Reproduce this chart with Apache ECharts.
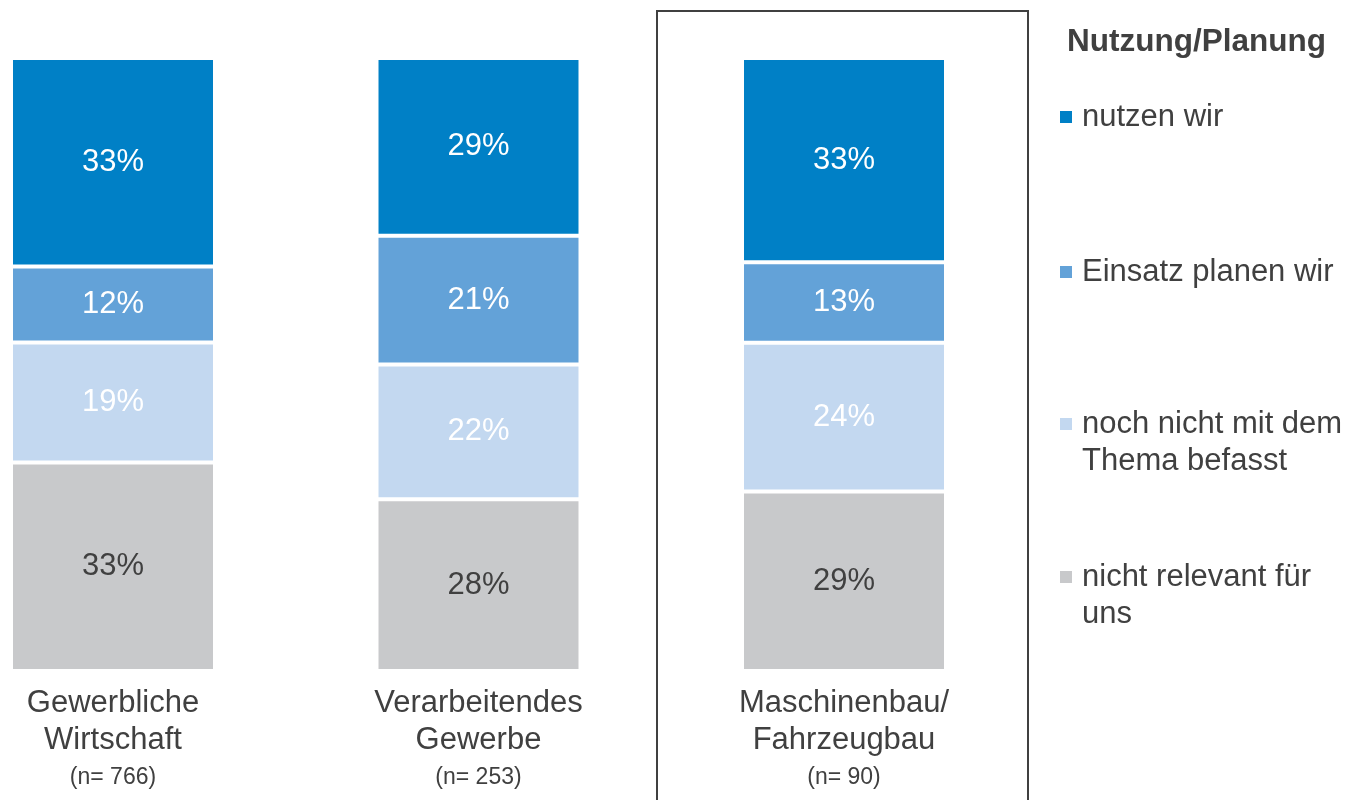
<!DOCTYPE html>
<html>
<head>
    <meta charset="utf-8">
    <title>Nutzung/Planung</title>
    <script src="https://cdn.jsdelivr.net/npm/echarts@6/dist/echarts.min.js"></script>
    <style>
        html, body { margin: 0; padding: 0; background: #fff; }
    </style>
</head>
<body>
    <div id="main" style="width:1355px;height:800px;"></div>

    <script type="text/javascript">
        // Kategorien und Stichprobengrößen
        var categories = ['Gewerbliche\nWirtschaft', 'Verarbeitendes\nGewerbe', 'Maschinenbau/\nFahrzeugbau'];
        var sampleSizes = [766, 253, 90];

        // Werte in Prozent (wie beschriftet), von unten nach oben gestapelt
        var nichtRelevant = [33, 28, 29];
        var nochNicht = [19, 22, 24];
        var einsatzPlanen = [12, 21, 13];
        var nutzenWir = [33, 29, 33];

        var seriesNames = ['nicht relevant für uns', 'noch nicht mit dem Thema befasst', 'Einsatz planen wir', 'nutzen wir'];
        var seriesValues = [nichtRelevant, nochNicht, einsatzPlanen, nutzenWir];
        var colors = ['#c8c9cb', '#c3d8f0', '#63a2d8', '#0080c6'];
        var labelColors = ['#404040', '#ffffff', '#ffffff', '#ffffff'];

        var textColor = '#404040';
        var font = "'Liberation Sans', Arial, sans-serif";

        // 100%-Stapel: Summe je Kategorie
        var totals = categories.map(function (c, i) {
            return seriesValues.reduce(function (s, arr) { return s + arr[i]; }, 0);
        });

        var series = seriesValues.map(function (arr, k) {
            return {
                name: seriesNames[k],
                type: 'bar',
                stack: 'total',
                barWidth: 204,
                itemStyle: {
                    color: colors[k],
                    borderColor: '#ffffff',
                    borderWidth: 2
                },
                label: {
                    show: true,
                    position: 'inside',
                    color: labelColors[k],
                    fontSize: 31,
                    fontFamily: font,
                    formatter: function (p) { return arr[p.dataIndex] + '%'; }
                },
                data: arr.map(function (v, i) { return v / totals[i] * 100; })
            };
        });

        // Legende: je Eintrag eine eigene Komponente (ungleiche Abstände)
        // zweizeilige Einträge: leere erste Zeile, damit Zeile 1 auf Höhe des Symbols liegt
        var legendTops = [98.5, 253.5, 368.5, 521.5];
        var legendOrder = [3, 2, 1, 0];
        var legendLabels = ['nutzen wir', 'Einsatz planen wir', '\nnoch nicht mit dem\nThema befasst', '\nnicht relevant für\nuns'];
        var legends = legendOrder.map(function (k, j) {
            return {
                data: [seriesNames[k]],
                left: 1058,
                top: legendTops[j],
                padding: 0,
                orient: 'vertical',
                icon: 'rect',
                itemWidth: 14,
                itemHeight: 14,
                selectedMode: false,
                formatter: function () { return legendLabels[j]; },
                textStyle: {
                    color: textColor,
                    fontSize: 31,
                    fontFamily: font,
                    lineHeight: 37,
                    padding: [0, 0, 0, 4]
                }
            };
        });

        var myChart = echarts.init(document.getElementById('main'));

        var option = {
            animation: false,
            title: {
                text: 'Nutzung/Planung',
                left: 1067,
                top: 26,
                padding: 0,
                textStyle: {
                    color: textColor,
                    fontSize: 31.5,
                    fontWeight: 'bold',
                    fontFamily: font,
                    lineHeight: 32
                }
            },
            legend: legends,
            grid: {
                left: 113,
                right: 511,
                top: 58,
                bottom: 129
            },
            xAxis: {
                type: 'category',
                data: categories,
                boundaryGap: false,
                axisLine: { show: false },
                axisTick: { show: false },
                splitLine: { show: false },
                axisLabel: {
                    margin: 14,
                    interval: 0,
                    formatter: function (value, idx) {
                        var lines = value.split('\n').map(function (l) { return '{a|' + l + '}'; });
                        return lines.join('\n') + '\n{n|(n= ' + sampleSizes[idx] + ')}';
                    },
                    rich: {
                        a: { fontSize: 31, lineHeight: 37, color: textColor, fontFamily: font },
                        n: { fontSize: 23, lineHeight: 37, color: textColor, fontFamily: font }
                    }
                }
            },
            yAxis: {
                type: 'value',
                min: 0,
                max: 100,
                show: false,
                splitLine: { show: false }
            },
            graphic: [{
                type: 'rect',
                shape: { x: 657, y: 11, width: 371, height: 800 },
                style: { fill: 'none', stroke: '#404040', lineWidth: 2 },
                silent: true
            }],
            series: series
        };

        myChart.setOption(option);
    </script>
</body>
</html>
